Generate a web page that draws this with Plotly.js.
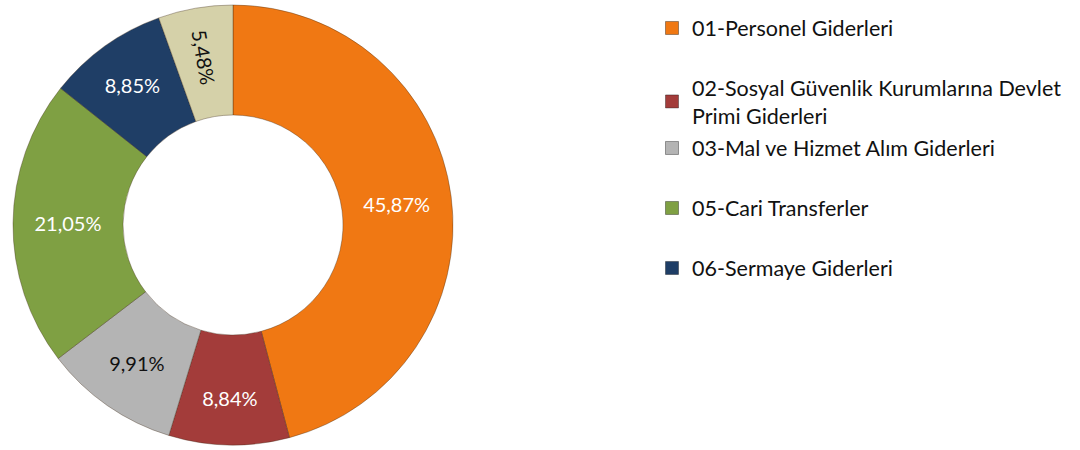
<!DOCTYPE html>
<html><head><meta charset="utf-8">
<script src="https://cdn.plot.ly/plotly-3.0.1.min.js"></script>
<style>html,body{margin:0;padding:0;background:#fff}#c{width:1080px;height:450px}</style>
</head><body><div id="c"></div>
<script>
const categories = ['01-Personel Giderleri','02-Sosyal Güvenlik Kurumlarına Devlet Primi Giderleri','03-Mal ve Hizmet Alım Giderleri','05-Cari Transferler','06-Sermaye Giderleri','07-Sermaye Transferleri'];
const legendLabels = ['01-Personel Giderleri','02-Sosyal Güvenlik Kurumlarına Devlet<br>Primi Giderleri','03-Mal ve Hizmet Alım Giderleri','05-Cari Transferler','06-Sermaye Giderleri'];
const shares = [45.87, 8.84, 9.91, 21.05, 8.85, 5.48];
const colors = ['#F07813','#A33C3A','#B4B4B4','#7FA043','#1F3E66','#D5D1A9'];
const textColors = ['#ffffff','#ffffff','#111111','#ffffff','#ffffff','#111111'];
const radialLabel = [false, false, false, false, false, true];
const legendY = [28, 101.5, 148, 208, 268];

const W = 1080, H = 450, MT = 5, MB = 5;
const toPaperY = py => (H - MB - py) / (H - MT - MB);
const dom = {x: [13/W, 453/W], y: [0, 1]};
const lbl = v => v.toFixed(2).replace('.', ',') + '%';

const traces = [{
  type: 'pie', labels: categories, values: shares, sort: false, direction: 'clockwise',
  hole: 0.5, showlegend: false, domain: dom,
  marker: {colors: colors, line: {color: 'rgba(60,40,20,0.45)', width: 0.8}},
  text: shares.map((v, i) => radialLabel[i] ? '' : lbl(v)),
  textinfo: 'text', textposition: 'inside', insidetextorientation: 'horizontal',
  textfont: {family: 'Lato, sans-serif', size: 20, color: textColors},
  hoverinfo: 'label+value'
}, {
  type: 'pie', labels: categories, values: shares, sort: false, direction: 'clockwise',
  hole: 0.5, showlegend: false, domain: dom,
  marker: {colors: shares.map(() => 'rgba(0,0,0,0)'), line: {width: 0}},
  text: shares.map((v, i) => radialLabel[i] ? lbl(v) : ''),
  textinfo: 'text', textposition: 'inside', insidetextorientation: 'radial',
  textfont: {family: 'Lato, sans-serif', size: 20, color: textColors},
  hoverinfo: 'skip'
}];
legendLabels.forEach((lab, i) => {
  traces.push({
    type: 'scatter', mode: 'markers', x: [null], y: [null], name: lab,
    legend: i === 0 ? 'legend' : 'legend' + (i + 1),
    marker: {symbol: 'square', size: 13, color: colors[i], line: {color: 'rgba(0,0,0,0.35)', width: 1}},
    hoverinfo: 'skip'
  });
});

const layout = {
  width: W, height: H, margin: {l: 0, r: 0, t: MT, b: MB},
  paper_bgcolor: '#fff', plot_bgcolor: '#fff', separators: ',.',
  xaxis: {visible: false}, yaxis: {visible: false},
  font: {family: 'Lato, sans-serif', color: '#111111'}
};
legendY.forEach((py, i) => {
  layout[i === 0 ? 'legend' : 'legend' + (i + 1)] = {
    x: 652 / W, xanchor: 'left', y: toPaperY(py), yanchor: 'middle',
    bgcolor: 'rgba(0,0,0,0)', borderwidth: 0,
    font: {family: 'Lato, sans-serif', size: 21.5, color: '#111111'}
  };
});

Plotly.newPlot('c', traces, layout, {staticPlot: true, displayModeBar: false});
</script></body></html>
